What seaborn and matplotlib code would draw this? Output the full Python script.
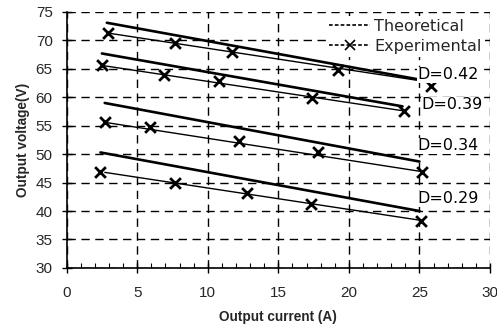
import matplotlib
matplotlib.use("Agg")
import matplotlib.pyplot as plt
from matplotlib.lines import Line2D
from matplotlib.ticker import MultipleLocator
import seaborn as sns
import pandas as pd

# ---- data ----
duty_labels = ["D=0.42", "D=0.39", "D=0.34", "D=0.29"]

# theoretical lines: start/end points
theo_x_start = [2.85, 2.5, 2.7, 2.4]
theo_x_end = [24.8, 23.8, 25.0, 25.0]
theo_y_start = [73.1, 67.7, 59.0, 50.3]
theo_y_end = [63.2, 58.4, 48.7, 40.0]

# experimental fitted lines: start/end points
exp_x_start = [2.9, 2.5, 2.7, 2.7]
exp_x_end = [24.8, 23.9, 25.0, 25.0]
exp_y_start = [71.3, 65.6, 55.6, 46.8]
exp_y_end = [63.0, 57.6, 47.0, 38.4]

# experimental measurements
exp_x_042 = [2.9, 7.7, 11.7, 19.2, 25.8]
exp_y_042 = [71.3, 69.5, 67.9, 64.8, 62.0]
exp_x_039 = [2.5, 6.9, 10.8, 17.4, 23.9]
exp_y_039 = [65.6, 63.9, 62.8, 59.9, 57.6]
exp_x_034 = [2.7, 5.9, 12.2, 17.8, 25.2]
exp_y_034 = [55.7, 54.7, 52.3, 50.3, 46.9]
exp_x_029 = [2.4, 7.7, 12.8, 17.35, 25.1]
exp_y_029 = [46.9, 44.9, 43.1, 41.2, 38.3]

label_x = [27.0, 27.3, 27.0, 27.0]
label_y = [64.0, 58.7, 51.5, 42.2]

x_ticks = [0, 5, 10, 15, 20, 25, 30]
y_ticks = [30, 35, 40, 45, 50, 55, 60, 65, 70, 75]

# ---- plot ----
sns.set_theme(style="white")
plt.rcParams["font.family"] = ["DejaVu Sans"]

fig = plt.figure(figsize=(4.97, 3.32), dpi=100)
ax = fig.add_axes([0.134, 0.193, 0.852, 0.771])

exp_pts = [(exp_x_042, exp_y_042), (exp_x_039, exp_y_039),
           (exp_x_034, exp_y_034), (exp_x_029, exp_y_029)]

for i, lab in enumerate(duty_labels):
    theo = pd.DataFrame({"x": [theo_x_start[i], theo_x_end[i]],
                         "y": [theo_y_start[i], theo_y_end[i]]})
    sns.lineplot(data=theo, x="x", y="y", ax=ax, color="black", lw=1.9,
                 sort=False, zorder=3)
    fit = pd.DataFrame({"x": [exp_x_start[i], exp_x_end[i]],
                        "y": [exp_y_start[i], exp_y_end[i]]})
    sns.lineplot(data=fit, x="x", y="y", ax=ax, color="black", lw=1.0,
                 sort=False, zorder=3)
    pts = pd.DataFrame({"x": exp_pts[i][0], "y": exp_pts[i][1]})
    sns.scatterplot(data=pts, x="x", y="y", ax=ax, marker="x", color="black",
                    s=60, linewidth=2.0, zorder=4)
    ax.text(label_x[i], label_y[i], lab, ha="center", va="center",
            fontsize=11.5, color="black", zorder=5,
            bbox=dict(facecolor="white", edgecolor="none", pad=0.3))

ax.set_xlim(0, 30)
ax.set_ylim(30, 75)
ax.set_xticks(x_ticks)
ax.set_yticks(y_ticks)
ax.xaxis.set_minor_locator(MultipleLocator(1))

tick_font = {"family": "Liberation Sans", "size": 11}
ax.set_xticklabels([str(t) for t in x_ticks], fontdict=tick_font)
ax.set_yticklabels([str(t) for t in y_ticks], fontdict=tick_font)

ax.tick_params(axis="both", which="major", direction="inout", length=7,
               width=1.0, color="black",
               bottom=True, left=True, top=False, right=False)
ax.tick_params(axis="x", which="major", pad=9.5)
ax.tick_params(axis="y", which="major", pad=6.5)
ax.tick_params(axis="x", which="minor", direction="in", length=3.5,
               width=0.8, color="black", bottom=True, top=False)

ax.grid(True, which="major", color="black", linestyle=(0, (6, 4)),
        linewidth=1.0)
ax.set_axisbelow(True)

for side in ["top", "right"]:
    ax.spines[side].set_visible(False)
for side in ["left", "bottom"]:
    ax.spines[side].set_visible(True)
    ax.spines[side].set_color("black")
    ax.spines[side].set_linewidth(1.2)

ax.set_xlabel("Output current (A)", family="Liberation Sans",
              fontweight="bold", fontsize=9.8, labelpad=7)
ax.set_ylabel("Output voltage(V)", family="Liberation Sans",
              fontweight="bold", fontsize=9.8, labelpad=4)

handles = [
    Line2D([], [], color="black", lw=1.2, linestyle=(0, (2.2, 1.3))),
    Line2D([], [], color="black", lw=1.2, linestyle=(0, (2.2, 1.3)),
           marker="x", markersize=6.5, markeredgewidth=1.2),
]
leg = ax.legend(handles, ["Theoretical", "Experimental"], loc="upper right",
                bbox_to_anchor=(0.988, 0.985), frameon=True, fontsize=11.5,
                handlelength=2.6, handletextpad=0.25, labelspacing=0.3,
                borderaxespad=0.0, borderpad=0.2, fancybox=False)
leg.get_frame().set_facecolor("white")
leg.get_frame().set_edgecolor("none")
leg.get_frame().set_alpha(1.0)

fig.savefig("out.png", dpi=100)
